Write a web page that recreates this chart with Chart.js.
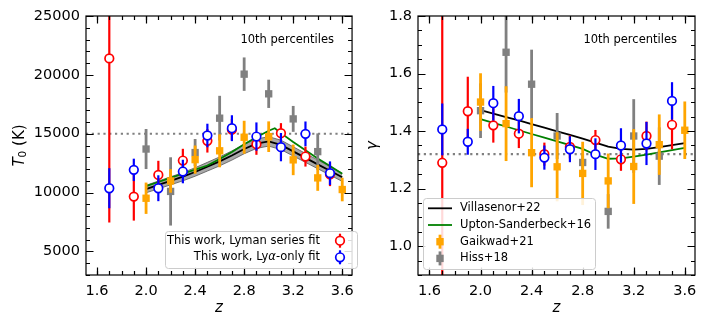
<!doctype html>
<html lang="en-US">

<head>
    <meta charset="utf-8" />
    <title>T0 and gamma - 10th percentiles</title>
    <script src="https://cdn.jsdelivr.net/npm/chart.js@4.4.0/dist/chart.umd.min.js"></script>
    <style>
        body {
            margin: 0;
            background: #fff;
        }

        #wrap {
            position: relative;
            width: 706px;
            height: 327px;
        }

        canvas {
            position: absolute;
            top: 0;
        }
    </style>
</head>

<body>
    <div id="wrap">
        <canvas id="t0Chart" width="362" height="327" style="left:0"></canvas>
        <canvas id="gammaChart" width="344" height="327" style="left:362px"></canvas>
    </div>

    <script>
        // redshift bins
        const zThisWork = [1.7, 1.9, 2.1, 2.3, 2.5, 2.7, 2.9, 3.1, 3.3, 3.5];
        const zGaikwad = [2.0, 2.2, 2.4, 2.6, 2.8, 3.0, 3.2, 3.4, 3.6];
        const zHiss = [2.0, 2.2, 2.4, 2.6, 2.8, 3.0, 3.2, 3.4];
        const zVillasenor = [2.0, 2.1, 2.2, 2.3, 2.4, 2.5, 2.6, 2.7, 2.8, 2.9, 3.0, 3.1, 3.2, 3.3, 3.4, 3.5, 3.6];
        const zUptonT0 = [2.0, 2.1, 2.2, 2.3, 2.4, 2.5, 2.6, 2.7, 2.8, 2.9, 3.0, 3.05, 3.1, 3.2, 3.3, 3.4, 3.5, 3.6];
        const zUptonGamma = [2.0, 2.1, 2.2, 2.3, 2.4, 2.5, 2.6, 2.7, 2.8, 2.9, 3.0, 3.1, 3.2, 3.3, 3.4, 3.5, 3.6];

        // T0 (K)
        const t0Lyman = [21400, 9660, 11500, 12720, 14400, 15350, 14110, 15050, 13060, 11550];
        const t0LymanErr = [13950, 2040, 1200, 1000, 1000, 900, 900, 850, 850, 1000];
        const t0LyaOnly = [10370, 11930, 10370, 11790, 14850, 15470, 14760, 13860, 14990, 11650];
        const t0LyaOnlyErr = [1700, 950, 1100, 1000, 1000, 1100, 1200, 1200, 1050, 1000];
        const t0Gaikwad = [9520, 10990, 12800, 13550, 14700, 14750, 12780, 11250, 10260];
        const t0GaikwadErr = [1330, 1000, 1200, 1400, 1400, 1300, 1300, 1100, 1000];
        const t0Hiss = [13700, 10100, 13400, 16320, 20060, 18390, 16260, 13480];
        const t0HissErr = [1700, 2900, 1150, 1900, 1420, 1200, 1100, 1550];
        const t0Villasenor = [10300, 10650, 11000, 11350, 11750, 12200, 12650, 13150, 13700, 14150, 14350, 14050, 13500, 12950, 12400, 11850, 11300];
        const t0VillasenorErr = [320, 330, 340, 350, 360, 370, 380, 390, 400, 400, 400, 400, 390, 380, 370, 360, 350];
        const t0Upton = [10550, 10900, 11250, 11600, 11950, 12300, 12850, 13450, 14100, 14700, 15250, 15470, 15050, 14300, 13600, 12900, 12250, 11600];

        // gamma
        const gammaLyman = [1.290, 1.469, 1.420, 1.391, 1.320, 1.345, 1.369, 1.302, 1.383, 1.422];
        const gammaLymanErr = [0.6, 0.12, 0.06, 0.05, 0.04, 0.04, 0.035, 0.04, 0.05, 0.085];
        const gammaLyaOnly = [1.406, 1.363, 1.497, 1.452, 1.308, 1.337, 1.320, 1.350, 1.357, 1.505];
        const gammaLyaOnlyErr = [0.09, 0.045, 0.06, 0.06, 0.042, 0.045, 0.055, 0.06, 0.075, 0.065];
        const gammaGaikwad = [1.501, 1.426, 1.325, 1.276, 1.253, 1.227, 1.277, 1.353, 1.403];
        const gammaGaikwadErr = [0.1, 0.13, 0.12, 0.12, 0.11, 0.095, 0.13, 0.105, 0.1];
        const gammaHiss = [1.471, 1.674, 1.563, 1.383, 1.291, 1.121, 1.383, 1.313];
        const gammaHissErr = [0.095, 0.14, 0.12, 0.08, 0.03, 0.06, 0.128, 0.1];
        const gammaVillasenor = [1.473, 1.461, 1.449, 1.437, 1.424, 1.412, 1.399, 1.387, 1.374, 1.360, 1.346, 1.338, 1.336, 1.338, 1.344, 1.351, 1.358];
        const gammaUpton = [1.442, 1.429, 1.416, 1.403, 1.390, 1.377, 1.364, 1.351, 1.338, 1.318, 1.304, 1.305, 1.311, 1.318, 1.326, 1.334, 1.342];

        // reference levels (dotted lines)
        const t0Reference = 15000;
        const gammaReference = 1.32;

        // ticks
        const zTicks = [1.6, 2.0, 2.4, 2.8, 3.2, 3.6];
        const t0Ticks = [5000, 10000, 15000, 20000, 25000];
        const gammaTicks = [1.0, 1.2, 1.4, 1.6, 1.8];

        const zMin = 1.51;
        const zMax = 3.68;
        const FONT = "'DejaVu Sans', sans-serif";

        const points = (xs, ys) => xs.map((x, i) => ({ x: x, y: ys[i] }));

        function errorDataset(label, xs, ys, errs, color, style, order) {
            const circle = style === 'circle';
            return {
                label: label,
                data: points(xs, ys),
                errors: errs,
                barColor: color,
                barWidth: circle ? 2.2 : 2.8,
                showLine: false,
                pointStyle: style,
                pointRadius: circle ? 4.3 : 5.2,
                pointBorderWidth: circle ? 1.7 : 0,
                pointBackgroundColor: circle ? '#fff' : color,
                pointBorderColor: color,
                order: order,
            };
        }

        function lineDataset(label, xs, ys, color, width, order) {
            return {
                label: label,
                data: points(xs, ys),
                showLine: true,
                borderColor: color,
                borderWidth: width,
                pointRadius: 0,
                fill: false,
                order: order,
            };
        }

        function dottedLevel(level) {
            return {
                data: [{ x: zMin, y: level }, { x: zMax, y: level }],
                showLine: true,
                borderColor: '#808080',
                borderWidth: 2.2,
                borderDash: [2.2, 3.6],
                pointRadius: 0,
                fill: false,
                order: 9,
            };
        }

        // vertical error bars, drawn just before the markers of their dataset
        const errorBars = {
            id: 'errorBars',
            beforeDatasetDraw(chart, args) {
                const ds = chart.data.datasets[args.index];
                if (!ds.errors) return;
                const { ctx, chartArea: a } = chart;
                const xs = chart.scales.x, ys = chart.scales.y;
                ctx.save();
                ctx.beginPath();
                ctx.rect(a.left, a.top, a.width, a.height);
                ctx.clip();
                ctx.strokeStyle = ds.barColor;
                ctx.lineWidth = ds.barWidth;
                ds.data.forEach((p, i) => {
                    const x = xs.getPixelForValue(p.x);
                    ctx.beginPath();
                    ctx.moveTo(x, ys.getPixelForValue(p.y - ds.errors[i]));
                    ctx.lineTo(x, ys.getPixelForValue(p.y + ds.errors[i]));
                    ctx.stroke();
                });
                ctx.restore();
            }
        };

        // matplotlib-like frame with inward ticks on all four sides
        const frameTicks = {
            id: 'frameTicks',
            afterDatasetsDraw(chart, args, opts) {
                const { ctx, chartArea: a } = chart;
                const xs = chart.scales.x, ys = chart.scales.y;
                const minorValues = (scale, step) => {
                    const out = [];
                    for (let k = Math.ceil(scale.min / step - 1e-9); k * step <= scale.max + 1e-9; k++) {
                        out.push(k * step);
                    }
                    return out;
                };
                const mark = (values, scale, len, horizontal) => {
                    values.forEach(v => {
                        const p = Math.round(scale.getPixelForValue(v)) + 0.5;
                        ctx.beginPath();
                        if (horizontal) {
                            ctx.moveTo(p, a.bottom);
                            ctx.lineTo(p, a.bottom - len);
                            ctx.moveTo(p, a.top);
                            ctx.lineTo(p, a.top + len);
                        } else {
                            ctx.moveTo(a.left, p);
                            ctx.lineTo(a.left + len, p);
                            ctx.moveTo(a.right, p);
                            ctx.lineTo(a.right - len, p);
                        }
                        ctx.stroke();
                    });
                };
                ctx.save();
                ctx.strokeStyle = '#000';
                ctx.lineWidth = 1.2;
                mark(minorValues(xs, opts.xMinor), xs, 4, true);
                mark(minorValues(ys, opts.yMinor), ys, 4, false);
                mark(zTicks, xs, 7.5, true);
                mark(opts.yMajor, ys, 7.5, false);
                ctx.strokeRect(a.left, a.top, a.width, a.height);

                // corner note
                ctx.fillStyle = '#000';
                ctx.font = '11.5px ' + FONT;
                ctx.textAlign = 'right';
                ctx.textBaseline = 'middle';
                ctx.fillText('10th percentiles', a.right - 18, a.top + 24);
                ctx.restore();
            }
        };

        // write text made of normal / italic runs
        function richText(ctx, parts, x, y, size, align) {
            const fontOf = p => (p.italic ? 'italic ' : '') + (p.size || size) + 'px ' + FONT;
            let total = 0;
            parts.forEach(p => { ctx.font = fontOf(p); total += ctx.measureText(p.text).width; });
            let cx = align === 'right' ? x - total : (align === 'center' ? x - total / 2 : x);
            ctx.textAlign = 'left';
            parts.forEach(p => {
                ctx.font = fontOf(p);
                ctx.fillText(p.text, cx, y + (p.dy || 0));
                cx += ctx.measureText(p.text).width;
            });
        }

        function errMarker(ctx, x, y, color, style) {
            ctx.strokeStyle = color;
            ctx.lineWidth = style === 'circle' ? 2.2 : 2.8;
            ctx.beginPath();
            ctx.moveTo(x, y - 7);
            ctx.lineTo(x, y + 7);
            ctx.stroke();
            if (style === 'circle') {
                ctx.fillStyle = '#fff';
                ctx.lineWidth = 1.7;
                ctx.beginPath();
                ctx.arc(x, y, 4.3, 0, Math.PI * 2);
                ctx.fill();
                ctx.stroke();
            } else {
                ctx.fillStyle = color;
                ctx.fillRect(x - 3.7, y - 3.7, 7.4, 7.4);
            }
        }

        // legend box + axis titles that need mixed italic text
        const decorations = {
            id: 'decorations',
            afterDraw(chart, args, opts) {
                const ctx = chart.ctx;
                ctx.save();
                if (opts.yTitle) {
                    const a = chart.chartArea;
                    ctx.save();
                    ctx.translate(opts.yTitle.x, (a.top + a.bottom) / 2);
                    ctx.rotate(-Math.PI / 2);
                    ctx.fillStyle = '#000';
                    ctx.textBaseline = 'middle';
                    richText(ctx, opts.yTitle.parts, 0, 0, 15, 'center');
                    ctx.restore();
                }
                const lg = opts.legend;
                if (lg) {
                    ctx.beginPath();
                    ctx.roundRect(lg.x + 0.5, lg.y + 0.5, lg.w, lg.h, 3);
                    ctx.fillStyle = 'rgba(255,255,255,0.85)';
                    ctx.fill();
                    ctx.strokeStyle = '#cccccc';
                    ctx.lineWidth = 1;
                    ctx.stroke();
                    ctx.textBaseline = 'middle';
                    lg.items.forEach((it, i) => {
                        const y = lg.rowY + i * lg.rowStep;
                        if (it.kind === 'line') {
                            ctx.strokeStyle = it.color;
                            ctx.lineWidth = 1.8;
                            ctx.beginPath();
                            ctx.moveTo(lg.markX - 12, y);
                            ctx.lineTo(lg.markX + 12, y);
                            ctx.stroke();
                        } else {
                            errMarker(ctx, lg.markX, y, it.color, it.kind);
                        }
                        ctx.fillStyle = '#000';
                        richText(ctx, it.parts, lg.textX, y, 11.5, lg.align);
                    });
                }
                ctx.restore();
            }
        };

        function axisOptions(ticks, min, max, fmt, yWidth, yTitle) {
            const tickFont = { family: FONT, size: 14.5 };
            return {
                x: {
                    type: 'linear',
                    min: zMin,
                    max: zMax,
                    afterBuildTicks: s => { s.ticks = zTicks.map(v => ({ value: v })); },
                    afterFit: s => { s.height = 52; },
                    ticks: { callback: v => v.toFixed(1), color: '#000', font: tickFont, padding: 8, autoSkip: false, maxRotation: 0 },
                    grid: { display: false, drawTicks: false },
                    border: { display: false },
                    title: { display: true, text: 'z', color: '#000', font: { family: FONT, size: 15, style: 'italic' }, padding: { top: 0, bottom: 10 } },
                },
                y: {
                    type: 'linear',
                    min: min,
                    max: max,
                    afterBuildTicks: s => { s.ticks = ticks.map(v => ({ value: v })); },
                    afterFit: s => { s.width = yWidth; },
                    ticks: { callback: fmt, color: '#000', font: tickFont, padding: 6, autoSkip: false },
                    grid: { display: false, drawTicks: false },
                    border: { display: false },
                    title: yTitle,
                },
            };
        }

        const baseOptions = {
            responsive: false,
            animation: false,
            events: [],
        };

        // left panel: T0
        new Chart(document.getElementById('t0Chart'), {
            type: 'scatter',
            data: {
                datasets: [
                    errorDataset('This work, Lyα-only fit', zThisWork, t0LyaOnly, t0LyaOnlyErr, '#0000ff', 'circle', 0),
                    errorDataset('This work, Lyman series fit', zThisWork, t0Lyman, t0LymanErr, '#ff0000', 'circle', 1),
                    errorDataset('Gaikwad+21', zGaikwad, t0Gaikwad, t0GaikwadErr, '#ffa500', 'rect', 2),
                    errorDataset('Hiss+18', zHiss, t0Hiss, t0HissErr, '#808080', 'rect', 3),
                    lineDataset('Upton-Sanderbeck+16', zUptonT0, t0Upton, '#008000', 1.8, 4),
                    lineDataset('Villasenor+22', zVillasenor, t0Villasenor, '#000000', 1.8, 5),
                    {
                        data: points(zVillasenor, t0Villasenor.map((v, i) => v + t0VillasenorErr[i])),
                        showLine: true, borderColor: '#555', borderWidth: 0.8, pointRadius: 0, fill: false, order: 6,
                    },
                    {
                        data: points(zVillasenor, t0Villasenor.map((v, i) => v - t0VillasenorErr[i])),
                        showLine: true, borderColor: '#555', borderWidth: 0.8, pointRadius: 0,
                        fill: '-1', backgroundColor: '#a9a9a9', order: 6,
                    },
                    dottedLevel(t0Reference),
                ],
            },
            options: {
                ...baseOptions,
                layout: { padding: { top: 16, right: 2, left: 0, bottom: 0 } },
                scales: axisOptions(t0Ticks, 3000, 25000, v => String(v), 86, { display: false }),
                plugins: {
                    legend: { display: false },
                    tooltip: { enabled: false },
                    frameTicks: { xMinor: 0.1, yMinor: 1000, yMajor: t0Ticks },
                    decorations: {
                        yTitle: {
                            x: 20,
                            parts: [
                                { text: 'T', italic: true },
                                { text: '0', size: 10.5, dy: 3 },
                                { text: ' (K)' },
                            ],
                        },
                        legend: {
                            x: 165, y: 231, w: 192, h: 37,
                            rowY: 240.7, rowStep: 16.6, markX: 340, textX: 320, align: 'right',
                            items: [
                                { kind: 'circle', color: '#ff0000', parts: [{ text: 'This work, Lyman series fit' }] },
                                { kind: 'circle', color: '#0000ff', parts: [{ text: 'This work, Ly' }, { text: 'α', italic: true }, { text: '-only fit' }] },
                            ],
                        },
                    },
                },
            },
            plugins: [errorBars, frameTicks, decorations],
        });

        // right panel: gamma
        new Chart(document.getElementById('gammaChart'), {
            type: 'scatter',
            data: {
                datasets: [
                    errorDataset('This work, Lyα-only fit', zThisWork, gammaLyaOnly, gammaLyaOnlyErr, '#0000ff', 'circle', 0),
                    errorDataset('This work, Lyman series fit', zThisWork, gammaLyman, gammaLymanErr, '#ff0000', 'circle', 1),
                    errorDataset('Gaikwad+21', zGaikwad, gammaGaikwad, gammaGaikwadErr, '#ffa500', 'rect', 2),
                    errorDataset('Hiss+18', zHiss, gammaHiss, gammaHissErr, '#808080', 'rect', 3),
                    lineDataset('Upton-Sanderbeck+16', zUptonGamma, gammaUpton, '#008000', 1.8, 4),
                    lineDataset('Villasenor+22', zVillasenor, gammaVillasenor, '#000000', 1.8, 5),
                    dottedLevel(gammaReference),
                ],
            },
            options: {
                ...baseOptions,
                layout: { padding: { top: 16, right: 11, left: 0, bottom: 0 } },
                scales: axisOptions(gammaTicks, 0.9, 1.8, v => v.toFixed(1), 56, {
                    display: true, text: 'γ', color: '#000',
                    font: { family: FONT, size: 15, style: 'italic' }, padding: { top: 2, bottom: 0 },
                }),
                plugins: {
                    legend: { display: false },
                    tooltip: { enabled: false },
                    frameTicks: { xMinor: 0.1, yMinor: 0.05, yMajor: gammaTicks },
                    decorations: {
                        legend: {
                            x: 61, y: 198, w: 172, h: 71,
                            rowY: 208.3, rowStep: 16.7, markX: 78, textX: 98, align: 'left',
                            items: [
                                { kind: 'line', color: '#000000', parts: [{ text: 'Villasenor+22' }] },
                                { kind: 'line', color: '#008000', parts: [{ text: 'Upton-Sanderbeck+16' }] },
                                { kind: 'rect', color: '#ffa500', parts: [{ text: 'Gaikwad+21' }] },
                                { kind: 'rect', color: '#808080', parts: [{ text: 'Hiss+18' }] },
                            ],
                        },
                    },
                },
            },
            plugins: [errorBars, frameTicks, decorations],
        });
    </script>
</body>

</html>
